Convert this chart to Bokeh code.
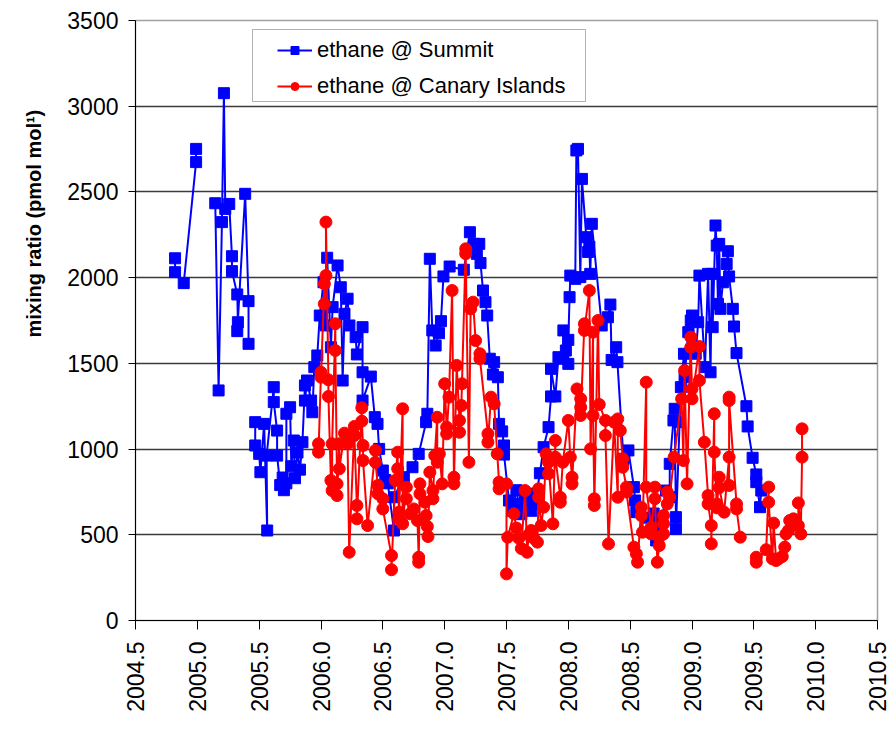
from math import pi, nan

from bokeh.embed import file_html
from bokeh.models import (BoxAnnotation, FixedTicker, Legend, LegendItem,
                          Range1d, Title)
from bokeh.plotting import figure
from bokeh.resources import INLINE

# ethane mixing ratio at Summit (Greenland), decimal year / pmol mol-1
summit_year = [
    2004.82, 2004.82, 2004.89, 2004.99, 2004.99, nan,
    2005.145, 2005.172, 2005.199, 2005.215, 2005.226, 2005.258, 2005.28, 2005.28,
    2005.323, 2005.328, 2005.323, 2005.387, 2005.414, 2005.414, nan,
    2005.468, 2005.468, 2005.50, 2005.51, 2005.54, 2005.565, 2005.56, 2005.618,
    2005.618, 2005.645, 2005.645, 2005.67, 2005.69, 2005.70, 2005.72, 2005.72,
    2005.75, 2005.76, 2005.78, 2005.79, 2005.81, 2005.83, 2005.85, 2005.87,
    2005.87, 2005.887, 2005.92, 2005.93, 2005.946, 2005.97, 2005.99, 2006.02,
    2006.04, 2006.05, 2006.08, 2006.094, 2006.134, 2006.16, 2006.175, 2006.19,
    2006.215, 2006.23, 2006.28, 2006.29, 2006.336, 2006.336, 2006.336, 2006.403,
    2006.435, 2006.457, 2006.47, 2006.50, 2006.52, 2006.54, 2006.59, 2006.59,
    2006.67, 2006.74, 2006.79, 2006.85, 2006.86, 2006.88, 2006.90, 2006.927,
    2006.954, 2006.97, 2006.99, 2007.04, 2007.155, 2007.204, 2007.24, 2007.26,
    2007.28, 2007.29, 2007.31, 2007.33, 2007.344, 2007.365, 2007.39, 2007.40,
    2007.43, 2007.44, 2007.465, 2007.48, 2007.48, 2007.52, 2007.55, 2007.58,
    2007.60, 2007.62, 2007.65, 2007.68, 2007.70, 2007.73, 2007.77, 2007.80,
    2007.84, 2007.86, 2007.86, 2007.895, 2007.92, 2007.955, 2007.96, 2007.98,
    2008.0, 2008.0, 2008.01, 2008.016, 2008.056, 2008.065, 2008.078, 2008.097,
    2008.11, 2008.145, 2008.16, 2008.17, 2008.177, 2008.19, 2008.27, 2008.32,
    2008.34, 2008.35, 2008.387, 2008.397, 2008.446, 2008.486, 2008.53, 2008.54,
    2008.55, 2008.65, 2008.67, 2008.69, 2008.71, 2008.73, 2008.75, 2008.79,
    2008.82, 2008.82, 2008.85, 2008.86, 2008.87, 2008.87, 2008.90, 2008.91,
    2008.935, 2008.94, 2008.97, 2008.99, 2009.0, 2009.03, 2009.05, 2009.06,
    2009.105, 2009.13, 2009.15, 2009.16, 2009.167, 2009.19, 2009.20, 2009.21,
    2009.22, 2009.23, 2009.25, 2009.28, 2009.29, 2009.30, 2009.33, 2009.34,
    2009.36, 2009.44, 2009.45, 2009.49, 2009.52, 2009.52, 2009.55, 2009.56,
]
summit_ethane = [
    2113, 2032, 1968, 2674, 2751, nan,
    2434, 1342, 2324, 3076, 2401, 2430, 2125, 2038,
    1902, 1740, 1688, 2489, 1863, 1614, nan,
    1157, 1021, 972, 865, 1147, 525, 962, 1361,
    1274, 1108, 962, 790, 834, 760, 800, 1206,
    1244, 900, 1050, 830, 980, 880, 1040, 1371,
    1283, 1400, 1283, 1215, 1478, 1546, 1779, 1973,
    1721, 2116, 1594, 1828, 2071, 1944, 1400, 1789,
    1877, 1721, 1653, 1552, 1711, 1448, 1283, 1423,
    1186, 1147, 1001, 875, 820, 800, 525, 719,
    836, 894, 972, 1157, 1206, 2110, 1692, 1604,
    1676, 1746, 2007, 2065, 2046, 2265, 2197, 2139,
    2197, 2085, 1925, 1857, 1779, 1527, 1435, 1507,
    1419, 1147, 1103, 1021, 968, 700, 640, 760,
    680, 620, 700, 740, 640, 680, 859, 1011,
    1128, 1307, 1468, 1307, 1536, 1527, 1692, 1575,
    1497, 1637, 1886, 2012, 1993, 2742, 2751, 2003,
    2576, 2236, 2150, 2180, 2022, 2314, 1721, 1769,
    1843, 1520, 1594, 1507, 943, 992, 778, 700,
    632, 600, 520, 624, 467, 580, 540, 758,
    719, 914, 1167, 1235, 603, 535, 1157, 1361,
    1556, 1419, 1682, 1750, 1779, 1556, 1740, 2012,
    1478, 2022, 1448, 2022, 1711, 2304, 2187, 1847,
    2197, 1818, 1973, 2080, 2154, 2007, 1818, 1715,
    1560, 1250, 1132, 949, 852, 807, 661, 758,
]

# ethane mixing ratio at the Canary Islands
canary_year = [
    2005.98, 2005.98, 2006.0, 2006.0, 2006.027, 2006.027, 2006.04, 2006.04,
    2006.06, 2006.06, 2006.08, 2006.09, 2006.09, 2006.116, 2006.116, 2006.13,
    2006.13, 2006.148, 2006.148, 2006.19, 2006.215, 2006.228, 2006.27, 2006.27,
    2006.29, 2006.29, 2006.33, 2006.33, 2006.34, 2006.34, 2006.377, 2006.44,
    2006.44, 2006.46, 2006.46, 2006.50, 2006.50, 2006.57, 2006.57, 2006.60,
    2006.62, 2006.62, 2006.63, 2006.63, 2006.66, 2006.66, 2006.69, 2006.69,
    2006.72, 2006.75, 2006.78, 2006.79, 2006.79, 2006.80, 2006.80, 2006.84,
    2006.85, 2006.86, 2006.865, 2006.88, 2006.905, 2006.905, 2006.92, 2006.94,
    2006.94, 2006.957, 2006.98, 2007.0, 2007.016, 2007.016, 2007.035, 2007.06,
    2007.075, 2007.075, 2007.097, 2007.12, 2007.12, 2007.135, 2007.14, 2007.17,
    2007.17, 2007.196, 2007.21, 2007.23, 2007.25, 2007.285, 2007.285, 2007.35,
    2007.35, 2007.375, 2007.40, 2007.425, 2007.44, 2007.44, 2007.50, 2007.50,
    2007.51, 2007.56, 2007.58, 2007.60, 2007.62, 2007.65, 2007.667, 2007.68,
    2007.70, 2007.72, 2007.75, 2007.76, 2007.76, 2007.78, 2007.80, 2007.82,
    2007.84, 2007.84, 2007.875, 2007.895, 2007.895, 2007.935, 2007.935, 2007.955,
    2008.0, 2008.016, 2008.03, 2008.03, 2008.07, 2008.10, 2008.10, 2008.10,
    2008.13, 2008.13, 2008.17, 2008.18, 2008.20, 2008.20, 2008.21, 2008.21,
    2008.24, 2008.25, 2008.30, 2008.30, 2008.325, 2008.37, 2008.40, 2008.40,
    2008.42, 2008.44, 2008.44, 2008.47, 2008.47, 2008.53, 2008.55, 2008.56,
    2008.59, 2008.59, 2008.60, 2008.63, 2008.63, 2008.67, 2008.67, 2008.70,
    2008.70, 2008.72, 2008.735, 2008.735, 2008.77, 2008.77, 2008.77, 2008.80,
    2008.80, 2008.82, 2008.855, 2008.916, 2008.93, 2008.94, 2008.96, 2008.99,
    2008.99, 2009.0, 2009.0, 2009.06, 2009.06, 2009.10, 2009.13, 2009.13,
    2009.156, 2009.156, 2009.18, 2009.18, 2009.20, 2009.20, 2009.22, 2009.22,
    2009.26, 2009.30, 2009.30, 2009.30, 2009.30, 2009.36, 2009.36, 2009.39, nan,
    2009.52, 2009.52, 2009.60, 2009.62, 2009.62, 2009.65, 2009.66, 2009.68,
    2009.70, 2009.73, 2009.75, 2009.76, 2009.78, 2009.79, 2009.82, 2009.84,
    2009.86, 2009.86, 2009.88, 2009.89, 2009.89,
]
canary_ethane = [
    1031, 982, 1448, 1419, 1964, 1847, 2012, 2324,
    1404, 1307, 817, 758, 1031, 1731, 1575, 797,
    729, 1031, 885, 1093, 1031, 398, 1132, 1079,
    671, 593, 1241, 1163, 1021, 933, 554, 992,
    923, 788, 739, 710, 651, 379, 296, 817,
    982, 885, 632, 593, 1235, 564, 778, 710,
    622, 651, 583, 369, 340, 797, 739, 690,
    612, 548, 490, 865, 758, 710, 962, 1186,
    923, 972, 797, 1381, 1128, 1089, 1303, 1925,
    836, 797, 1488, 1167, 1098, 1254, 1381, 2168,
    2140, 923, 1818, 1857, 1633, 1556, 1527, 1089,
    1040, 1303, 1264, 972, 807, 768, 797, 272,
    486, 622, 540, 480, 420, 758, 398, 500,
    525, 480, 457, 768, 719, 554, 661, 972,
    856, 923, 564, 1050, 953, 719, 690, 923,
    1167, 953, 836, 797, 1351, 1293, 1244, 1196,
    1731, 1692, 1925, 1001, 1682, 1196, 710, 671,
    1750, 1260, 1167, 1079, 447, 1157, 719, 1176,
    1108, 943, 894, 778, 749, 428, 389, 340,
    661, 612, 515, 1390, 778, 544, 505, 778,
    710, 340, 437, 486, 564, 612, 505, 680,
    749, 719, 953, 1293, 933, 1458, 797, 1653,
    1594, 1351, 1293, 1598, 1400, 1040, 729, 680,
    554, 447, 1206, 982, 680, 657, 836, 774,
    632, 953, 788, 1303, 1283, 680, 651, 486, nan,
    369, 340, 413, 778, 690, 360, 568, 350,
    360, 373, 428, 505, 525, 583, 593, 560,
    554, 686, 505, 953, 1118,
]

x_ticks = [2004.5, 2005.0, 2005.5, 2006.0, 2006.5, 2007.0, 2007.5,
           2008.0, 2008.5, 2009.0, 2009.5, 2010.0, 2010.5]
x_tick_labels = ["2004.5", "2005.0", "2005.5", "2006.0", "2006.5", "2007.0",
                 "2007.5", "2008.0", "2008.5", "2009.0", "2009.5", "2010.0",
                 "2010.5"]
y_ticks = [0, 500, 1000, 1500, 2000, 2500, 3000, 3500]

FONT = "Liberation Sans"

p = figure(width=891, height=730, output_backend="svg", toolbar_location=None,
           x_range=Range1d(2004.5, 2010.5), y_range=Range1d(0, 3500),
           min_border_left=135, min_border_right=14, min_border_top=20,
           min_border_bottom=110)
p.background_fill_color = "white"
p.border_fill_color = "white"
p.outline_line_color = "#a0a0a0"
p.outline_line_width = 1.5

p.xgrid.visible = False
p.ygrid.ticker = FixedTicker(ticks=y_ticks)
p.ygrid.grid_line_color = "#3a3a3a"
p.ygrid.grid_line_width = 1.5

xa = p.xaxis[0]
xa.ticker = FixedTicker(ticks=x_ticks)
xa.major_label_overrides = {t: s for t, s in zip(x_ticks, x_tick_labels)}
xa.major_label_orientation = pi / 2
xa.major_label_text_font = FONT
xa.major_label_text_font_size = "23px"
xa.major_label_text_color = "black"
xa.major_label_standoff = 12
xa.major_tick_out = 9
xa.major_tick_in = 0
xa.minor_tick_out = 0
xa.minor_tick_in = 0
xa.axis_line_color = "black"
xa.major_tick_line_color = "black"

ya = p.yaxis[0]
ya.ticker = FixedTicker(ticks=y_ticks)
ya.major_label_text_font = FONT
ya.major_label_text_font_size = "23px"
ya.major_label_text_color = "black"
ya.major_label_standoff = 10
ya.major_tick_out = 7
ya.major_tick_in = 0
ya.minor_tick_out = 0
ya.minor_tick_in = 0
ya.axis_line_color = "black"
ya.major_tick_line_color = "black"

# Summit series: blue line with square markers
s_line = p.line(summit_year, summit_ethane, line_color="#0000ff", line_width=2)
s_pts = p.scatter(summit_year, summit_ethane, marker="square", size=11,
                  fill_color="#0000ff", line_color="#0000ff")

# Canary Islands series: red line with round markers
c_line = p.line(canary_year, canary_ethane, line_color="#ff0000", line_width=2)
c_pts = p.scatter(canary_year, canary_ethane, marker="circle", size=12,
                  fill_color="#ff0000", line_color="#ff0000")

# vertical axis title, set in the left margin and raised above centre
p.add_layout(Title(text="mixing ratio (pmol mol\u00b9)", align="left",
                   offset=283, standoff=39, text_font=FONT,
                   text_font_style="bold", text_font_size="20px",
                   text_color="black"), "left")

legend = Legend(items=[
    LegendItem(label="ethane @ Summit", renderers=[s_line, s_pts]),
    LegendItem(label="ethane @ Canary Islands", renderers=[c_line, c_pts]),
], location=(134, 513))
legend.label_text_font = FONT
legend.label_text_font_size = "22px"
legend.label_text_color = "black"
legend.glyph_width = 35
legend.glyph_height = 20
legend.label_standoff = 5
legend.padding = 8
legend.margin = 0
legend.spacing = 10
legend.border_line_alpha = 0
legend.background_fill_alpha = 0
p.add_layout(legend)

# legend frame
p.add_layout(BoxAnnotation(left=117, right=450, bottom=519, top=591,
                           left_units="screen", right_units="screen",
                           bottom_units="screen", top_units="screen",
                           fill_alpha=0, line_color="black", line_width=1))

open("out.html", "w").write(file_html(p, INLINE))
